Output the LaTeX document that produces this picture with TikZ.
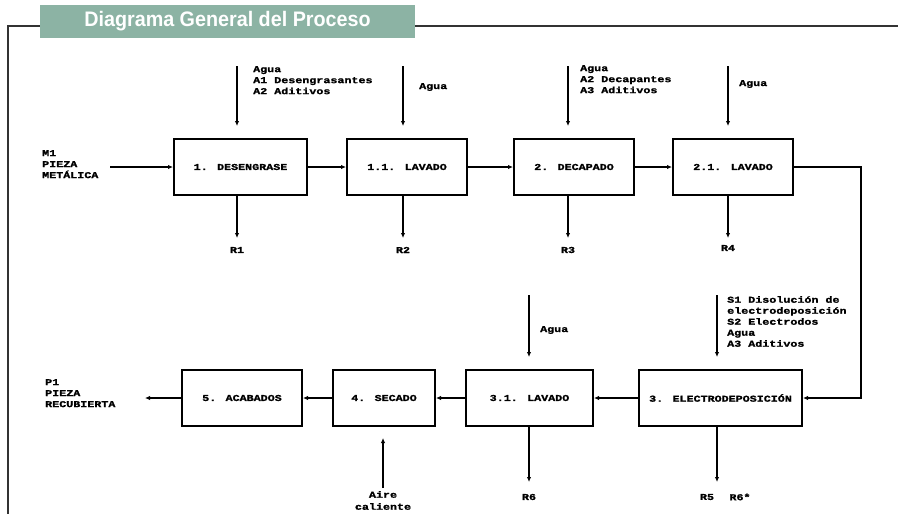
\documentclass[tikz,border=0pt]{standalone}
\usepackage{fontspec}
\setmainfont{Liberation Sans}
\newfontfamily\titlefont[FakeStretch=0.94]{Liberation Sans}
\newfontfamily\scanfont[FakeStretch=1.3,FakeBold=1.5]{Liberation Mono}
\usetikzlibrary{arrows.meta}
\definecolor{titlegreen}{HTML}{8CB3A4}
\definecolor{framegray}{HTML}{333333}
\begin{document}
\begin{tikzpicture}[x=1pt,y=-1pt,
  procbox/.style={draw, line width=2pt, minimum height=56pt, inner sep=0pt,
    font=\scanfont\bfseries\fontsize{9}{10}\selectfont},
  lbl/.style={font=\scanfont\bfseries\fontsize{9}{11}\selectfont, align=left, inner sep=0pt},
  clbl/.style={font=\scanfont\bfseries\fontsize{9}{12}\selectfont, align=center, inner sep=0pt},
  flow/.style={-{Latex[length=5pt,width=4.5pt]}, line width=1.4pt},
  inflow/.style={flow, shorten >=12pt},
]
\useasboundingbox (0,0) rectangle (898,514);
% frame and title
\draw[line width=1.2pt, framegray] (8,514) -- (8,26) -- (898,26);
\fill[titlegreen] (40,5) rectangle (415,38);
\node[font=\titlefont\bfseries\fontsize{21}{22}\selectfont, text=white] (title) at (227.5,21.5) {Diagrama General del Proceso};

% top row boxes
\node[procbox, minimum width=133pt] (b1) at (240.5,167) {1. DESENGRASE};
\node[procbox, minimum width=120pt] (b11) at (407,167) {1.1. LAVADO};
\node[procbox, minimum width=120pt] (b2) at (574,167) {2. DECAPADO};
\node[procbox, minimum width=120pt] (b21) at (733,167) {2.1. LAVADO};

% bottom row boxes
\node[procbox, minimum width=163pt] (b3) at (720.5,398) {3. ELECTRODEPOSICIÓN};
\node[procbox, minimum width=127pt] (b31) at (529.5,398) {3.1. LAVADO};
\node[procbox, minimum width=102pt] (b4) at (384,398) {4. SECADO};
\node[procbox, minimum width=120pt] (b5) at (242,398) {5. ACABADOS};

% left input / output labels
\node[lbl, anchor=north west] (m1) at (42,150) {M1\\PIEZA\\METÁLICA};
\node[lbl, anchor=north west] (p1) at (45,379) {P1\\PIEZA\\RECUBIERTA};
\coordinate (m1e) at (110,167);
\coordinate (p1e) at (145,398);

% main flow
\draw[flow] (m1e) -- (b1.west);
\draw[flow] (b1) -- (b11);
\draw[flow] (b11) -- (b2);
\draw[flow] (b2) -- (b21);
\coordinate (corner1) at (861,167);
\coordinate (corner2) at (861,398);
\draw[flow] (b21.east) -- (corner1) -- (corner2) -- (b3.east);
\draw[flow] (b3) -- (b31);
\draw[flow] (b31) -- (b4);
\draw[flow] (b4) -- (b5);
\draw[flow] (b5.west) -- (p1e);

% top inputs
\coordinate (i1) at (237,66);
\coordinate (i11) at (403,66);
\coordinate (i2) at (568,66);
\coordinate (i21) at (728,66);
\draw[inflow] (i1) -- (i1 |- b1.north);
\draw[inflow] (i11) -- (i11 |- b11.north);
\draw[inflow] (i2) -- (i2 |- b2.north);
\draw[inflow] (i21) -- (i21 |- b21.north);
\node[lbl, anchor=north west] (t1) at (253,66) {Agua\\A1 Desengrasantes\\A2 Aditivos};
\node[lbl, anchor=west] (t11) at (419,87) {Agua};
\node[lbl, anchor=north west] (t2) at (580,65) {Agua\\A2 Decapantes\\A3 Aditivos};
\node[lbl, anchor=west] (t21) at (739,84) {Agua};

% top outputs
\node[clbl] (r1) at (237,250) {R1};
\node[clbl] (r2) at (403,250) {R2};
\node[clbl] (r3) at (568,250) {R3};
\node[clbl] (r4) at (728,248) {R4};
\draw[flow] (i1 |- b1.south) -- ++(0,42);
\draw[flow] (i11 |- b11.south) -- ++(0,42);
\draw[flow] (i2 |- b2.south) -- ++(0,42);
\draw[flow] (i21 |- b21.south) -- ++(0,42);

% bottom inputs
\coordinate (i31) at (529,295);
\coordinate (i3) at (717,295);
\draw[inflow] (i31) -- (i31 |- b31.north);
\draw[inflow] (i3) -- (i3 |- b3.north);
\node[lbl, anchor=west] (t31) at (540,330) {Agua};
\node[lbl, anchor=north west] (t3) at (727,296) {S1 Disolución de\\electrodeposición\\S2 Electrodos\\Agua\\A3 Aditivos};

% bottom outputs
\draw[flow] (i31 |- b31.south) -- ++(0,55);
\draw[flow] (i3 |- b3.south) -- ++(0,55);
\node[clbl] (r6) at (529,497) {R6};
\node[clbl] (r5) at (707,497) {R5};
\node[clbl] (r6b) at (740,497) {R6*};

% hot air into drying
\coordinate (air) at (383,488);
\draw[flow, shorten >=11pt] (air) -- (air |- b4.south);
\node[clbl, anchor=north] (airlbl) at (383,491) {Aire\\caliente};
\end{tikzpicture}
\end{document}
